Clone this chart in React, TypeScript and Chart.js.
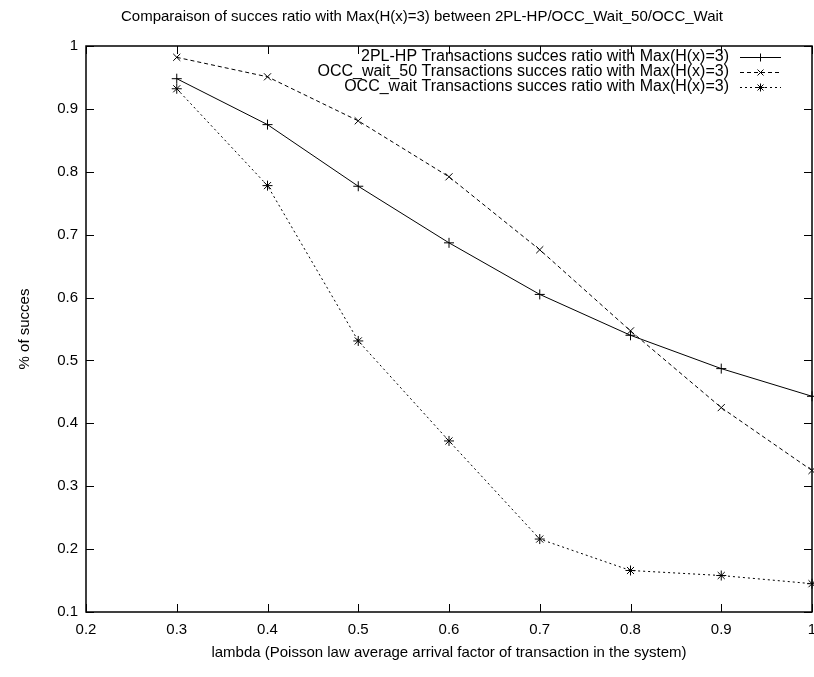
import React, { useEffect, useRef } from "react";
import { Chart, registerables } from "chart.js";

Chart.register(...registerables);

const lambdas = [0.3, 0.4, 0.5, 0.6, 0.7, 0.8, 0.9, 1.0];
const twoPLHP = [0.948, 0.875, 0.777, 0.687, 0.605, 0.54, 0.487, 0.443];
const occWait50 = [0.982, 0.951, 0.881, 0.792, 0.676, 0.547, 0.425, 0.325];
const occWait = [0.932, 0.778, 0.531, 0.372, 0.216, 0.166, 0.158, 0.145];
const seriesLabels = [
  "2PL-HP Transactions succes ratio with Max(H(x)=3)",
  "OCC_wait_50 Transactions succes ratio with Max(H(x)=3)",
  "OCC_wait Transactions succes ratio with Max(H(x)=3)",
];
const chartTitle = "Comparaison of succes ratio with Max(H(x)=3) between 2PL-HP/OCC_Wait_50/OCC_Wait";
const xTitle = "lambda (Poisson law average arrival factor of transaction in the system)";
const yTitle = "% of succes";

const FONT = "'Liberation Sans', Arial, sans-serif";

const dashes = [[], [4, 3], [2, 3]];
const styles = ["cross", "crossRot", "star"];

const gnuplotPlugin = {
  id: "gnuplotDeco",
  afterDraw(chart: any) {
    const ctx = chart.ctx;
    const { left, right, top, bottom } = chart.chartArea;
    const xs = chart.scales.x;
    const ys = chart.scales.y;
    ctx.save();
    ctx.strokeStyle = "#000";
    ctx.lineWidth = 1.5;
    ctx.setLineDash([]);
    ctx.strokeRect(left, top, right - left, bottom - top);
    ctx.lineWidth = 1;
    const tl = 8;
    xs.ticks.forEach((t: any) => {
      const px = Math.round(xs.getPixelForValue(t.value)) + 0.5;
      ctx.beginPath();
      ctx.moveTo(px, bottom);
      ctx.lineTo(px, bottom - tl);
      ctx.moveTo(px, top);
      ctx.lineTo(px, top + tl);
      ctx.stroke();
    });
    ys.ticks.forEach((t: any) => {
      const py = Math.round(ys.getPixelForValue(t.value)) + 0.5;
      ctx.beginPath();
      ctx.moveTo(left, py);
      ctx.lineTo(left + tl, py);
      ctx.moveTo(right, py);
      ctx.lineTo(right - tl, py);
      ctx.stroke();
    });
    ctx.fillStyle = "#000";
    ctx.font = `15px ${FONT}`;
    ctx.textAlign = "center";
    ctx.textBaseline = "middle";
    ctx.fillText(chartTitle, 422, 17);
    ctx.font = `16px ${FONT}`;
    ctx.textAlign = "right";
    chart.data.datasets.forEach((ds: any, i: number) => {
      const y = 57 + i * 15;
      ctx.fillText(ds.label, 729, y);
      ctx.beginPath();
      ctx.setLineDash(dashes[i]);
      ctx.lineWidth = 1;
      ctx.moveTo(740, y + 0.5);
      ctx.lineTo(781, y + 0.5);
      ctx.stroke();
      ctx.setLineDash([]);
      const m = styles[i];
      const r = 4;
      const cx = 760.5;
      const cy = y + 0.5;
      ctx.beginPath();
      if (m === "cross" || m === "star") {
        ctx.moveTo(cx - r, cy);
        ctx.lineTo(cx + r, cy);
        ctx.moveTo(cx, cy - r);
        ctx.lineTo(cx, cy + r);
      }
      if (m === "crossRot" || m === "star") {
        const d = r * 0.75;
        ctx.moveTo(cx - d, cy - d);
        ctx.lineTo(cx + d, cy + d);
        ctx.moveTo(cx - d, cy + d);
        ctx.lineTo(cx + d, cy - d);
      }
      ctx.stroke();
    });
    ctx.restore();
  },
};

export default function App() {
  const ref = useRef<HTMLCanvasElement>(null);
  useEffect(() => {
    document.body.style.margin = "0";
    const all = [twoPLHP, occWait50, occWait];
    const chart = new Chart(ref.current!, {
      type: "line",
      data: {
        datasets: all.map((vals, i) => ({
          label: seriesLabels[i],
          data: lambdas.map((x, j) => ({ x, y: vals[j] })),
          borderColor: "#000",
          backgroundColor: "#000",
          borderWidth: 1,
          borderDash: dashes[i],
          pointStyle: styles[i] as any,
          pointRadius: 5,
          pointBorderWidth: 1,
          pointBorderColor: "#000",
          fill: false,
          tension: 0,
          clip: false,
        })),
      },
      options: {
        animation: false,
        responsive: false,
        maintainAspectRatio: false,
        layout: { autoPadding: false, padding: { left: 0, right: 2, top: 46, bottom: 0 } },
        plugins: {
          legend: { display: false },
          title: { display: false },
          tooltip: { enabled: false },
        },
        scales: {
          x: {
            type: "linear",
            min: 0.2,
            max: 1,
            grid: { display: false, drawTicks: false },
            border: { display: false },
            afterFit: (s: any) => {
              s.height = 65;
              s.paddingLeft = 0;
              s.paddingRight = 0;
            },
            ticks: {
              stepSize: 0.1,
              padding: 9,
              color: "#000",
              font: { family: FONT, size: 15 },
              callback: (v: any) => String(Math.round(Number(v) * 10) / 10),
            },
            title: {
              display: true,
              text: xTitle,
              color: "#000",
              font: { family: FONT, size: 15 },
              padding: { top: 8, bottom: 15 },
            },
          },
          y: {
            type: "linear",
            min: 0.1,
            max: 1,
            grid: { display: false, drawTicks: false },
            border: { display: false },
            afterFit: (s: any) => {
              s.width = 86;
              s.paddingTop = 0;
              s.paddingBottom = 0;
            },
            ticks: {
              stepSize: 0.1,
              padding: 8,
              color: "#000",
              font: { family: FONT, size: 15 },
              callback: (v: any) => String(Math.round(Number(v) * 10) / 10),
            },
            title: {
              display: true,
              text: yTitle,
              color: "#000",
              font: { family: FONT, size: 15 },
              padding: { top: 16, bottom: 0 },
            },
          },
        },
      },
      plugins: [gnuplotPlugin],
    });
    return () => chart.destroy();
  }, []);
  return (
    <div style={{ width: 814, height: 677 }}>
      <canvas ref={ref} width={814} height={677} style={{ width: 814, height: 677, display: "block" }} />
    </div>
  );
}
